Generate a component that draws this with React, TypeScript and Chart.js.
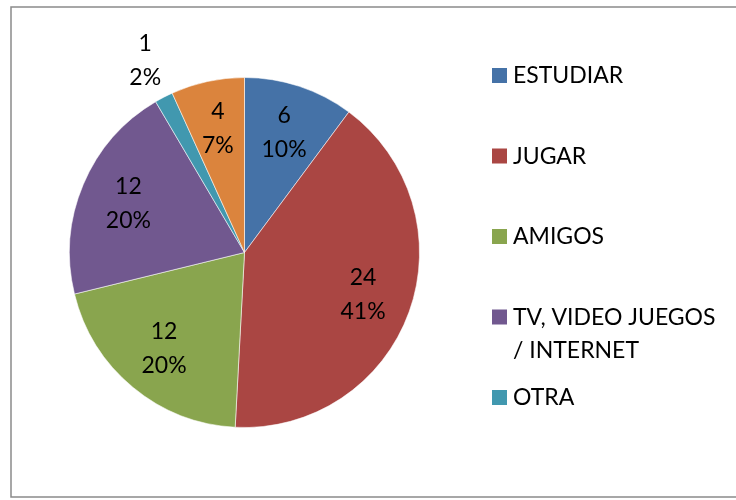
import React, { useEffect, useRef } from "react";
import { Chart, registerables } from "chart.js";

Chart.register(...registerables);

const categories = ["ESTUDIAR", "JUGAR", "AMIGOS", "TV, VIDEO JUEGOS / INTERNET", "OTRA", ""];
const values = [6, 24, 12, 12, 1, 4];
const colors = ["#4572A7", "#AA4643", "#89A54E", "#71588F", "#4198AF", "#DB843D"];
const legendLines = [["ESTUDIAR"], ["JUGAR"], ["AMIGOS"], ["TV, VIDEO JUEGOS", "/ INTERNET"], ["OTRA"]];

const FONT = "23px Lato";

const framePlugin = {
  id: "frame",
  beforeDraw(chart: any) {
    const ctx = chart.ctx;
    ctx.save();
    ctx.fillStyle = "#ffffff";
    ctx.fillRect(0, 0, chart.width, chart.height);
    ctx.strokeStyle = "#8a8a8a";
    ctx.lineWidth = 1.5;
    ctx.strokeRect(11, 7, chart.width + 20, 490);
    ctx.restore();
  },
};

const labelPlugin = {
  id: "sliceLabels",
  afterDatasetsDraw(chart: any) {
    const ctx = chart.ctx;
    const meta = chart.getDatasetMeta(0);
    const data = chart.data.datasets[0].data as number[];
    const total = data.reduce((a, b) => a + b, 0);
    ctx.save();
    ctx.font = FONT;
    ctx.fillStyle = "#000000";
    ctx.textAlign = "center";
    ctx.textBaseline = "alphabetic";
    meta.data.forEach((arc: any, i: number) => {
      const frac = data[i] / total;
      const mid = (arc.startAngle + arc.endAngle) / 2;
      const r = arc.outerRadius * (frac < 0.03 ? 1.23 : 0.72);
      const cx = arc.x + Math.cos(mid) * r;
      const cy = arc.y + Math.sin(mid) * r;
      ctx.fillText(String(data[i]), cx, cy - 10);
      ctx.fillText(Math.round(frac * 100) + "%", cx, cy + 24);
    });
    ctx.restore();
  },
};

const legendPlugin = {
  id: "customLegend",
  afterDraw(chart: any) {
    const ctx = chart.ctx;
    ctx.save();
    ctx.font = FONT;
    ctx.textAlign = "left";
    ctx.textBaseline = "alphabetic";
    legendLines.forEach((lines, i) => {
      const base = 83 + i * 80.5;
      ctx.fillStyle = colors[i];
      ctx.fillRect(492, base - 15, 15, 15);
      ctx.fillStyle = "#000000";
      lines.forEach((t, j) => ctx.fillText(t, 513, base + j * 33));
    });
    ctx.restore();
  },
};

export default function App() {
  const ref = useRef<HTMLCanvasElement>(null);
  useEffect(() => {
    if (!ref.current) return;
    const chart = new Chart(ref.current, {
      type: "pie",
      data: {
        labels: categories,
        datasets: [
          {
            data: values,
            backgroundColor: colors,
            borderColor: "rgba(255,255,255,0.55)",
            borderWidth: 1,
          },
        ],
      },
      options: {
        responsive: false,
        animation: false,
        devicePixelRatio: 1,
        rotation: 0,
        layout: { padding: { left: 69, right: 316, top: 77, bottom: 72 } },
        plugins: {
          legend: { display: false },
          tooltip: { enabled: false },
        },
      },
      plugins: [framePlugin, labelPlugin, legendPlugin],
    });
    return () => chart.destroy();
  }, []);
  return (
    <div style={{ position: "fixed", left: 0, top: 0, width: 736, height: 500 }}>
      <canvas ref={ref} width={736} height={500} style={{ display: "block" }} />
    </div>
  );
}
